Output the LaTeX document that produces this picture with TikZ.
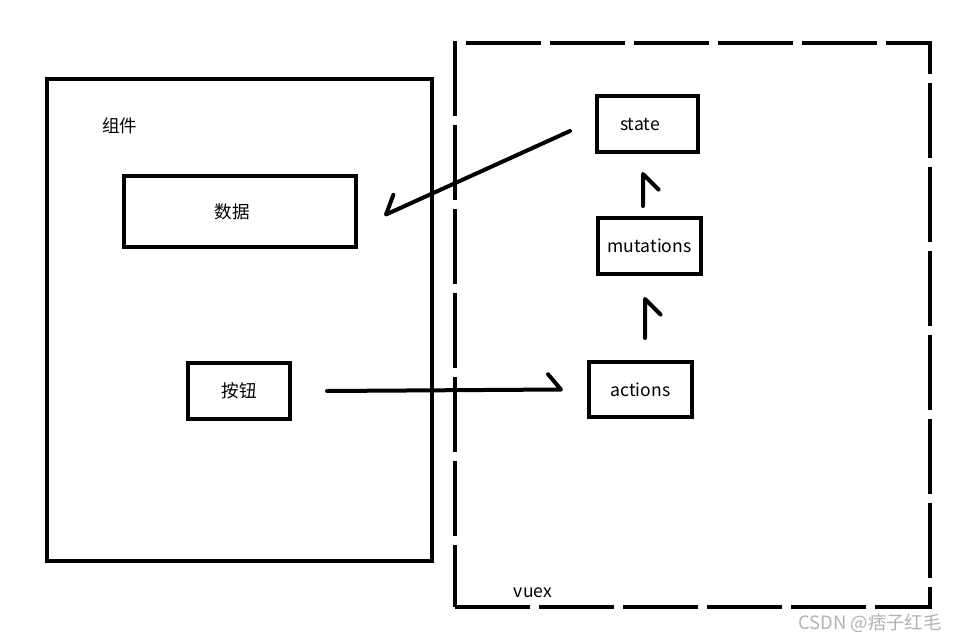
\documentclass[tikz,border=0pt]{standalone}
\usepackage{fontspec}
\setmainfont{Noto Sans CJK SC}
\usetikzlibrary{calc}

\begin{document}
\begin{tikzpicture}[
		box/.style={draw=black, line width=0.08cm, rectangle, inner sep=0pt, font=\fontsize{10}{12}\selectfont},
		flow/.style={line width=0.08cm, line cap=round, line join=round}
	]
	\useasboundingbox (0,0) rectangle (19.22,-12.84);
	% component side
	\node[box, minimum width=7.7cm, minimum height=9.64cm] (zujian) at (4.79,-6.4) {};
	\node[font=\fontsize{10}{12}\selectfont] (zujianlabel) at (2.4,-2.52) {组件};
	\node[box, minimum width=4.64cm, minimum height=1.42cm] (shuju) at (4.8,-4.23) {\hspace*{-0.3cm}数据};
	\node[box, minimum width=2.04cm, minimum height=1.12cm] (anniu) at (4.78,-7.82) {按钮};
	% vuex side
	\node[box, dash pattern=on 1.5cm off 0.18cm, minimum width=9.5cm, minimum height=11.28cm] (vuex) at (13.85,-6.5) {};
	\node[font=\fontsize{10}{12}\selectfont] (vuexlabel) at (10.66,-11.86) {vuex};
	\node[box, minimum width=2.02cm, minimum height=1.12cm] (state) at (12.95,-2.48) {\hspace*{-0.3cm}state};
	\node[box, minimum width=2.06cm, minimum height=1.12cm] (mutations) at (12.99,-4.92) {mutations};
	\node[box, minimum width=2.06cm, minimum height=1.1cm] (actions) at (12.81,-7.79) {actions};
	% arrow ends
	\coordinate (s1) at ([xshift=-0.5cm,yshift=-0.14cm]state.west);
	\coordinate (s2) at ([xshift=0.56cm,yshift=-0.06cm]shuju.east);
	\coordinate (b1) at ([xshift=0.7cm]anniu.east);
	\coordinate (b2) at ([xshift=-0.52cm]actions.west);
	\coordinate (m1) at ([xshift=-0.13cm,yshift=0.2cm]mutations.north);
	\coordinate (m2) at ([xshift=-0.09cm,yshift=-0.4cm]state.south);
	\coordinate (a1) at ([xshift=0.09cm,yshift=0.44cm]actions.north);
	\coordinate (a2) at ([xshift=-0.09cm,yshift=-0.46cm]mutations.south);
	% arrows with one barb
	\draw[flow] (s1) -- (s2) -- ($(s2)!0.42cm!45:(s1)$);
	\draw[flow] (b1) -- (b2) -- ($(b2)!0.4cm!-50:(b1)$);
	\draw[flow] (m1) -- (m2) -- ($(m2)!0.44cm!45:(m1)$);
	\draw[flow] (a1) -- (a2) -- ($(a2)!0.44cm!45:(a1)$);
	% watermark
	\node[text=black!30, font=\fontsize{10.5}{12}\selectfont] (mark) at (17.4,-12.46) {CSDN @痞子红毛};
\end{tikzpicture}
\end{document}
